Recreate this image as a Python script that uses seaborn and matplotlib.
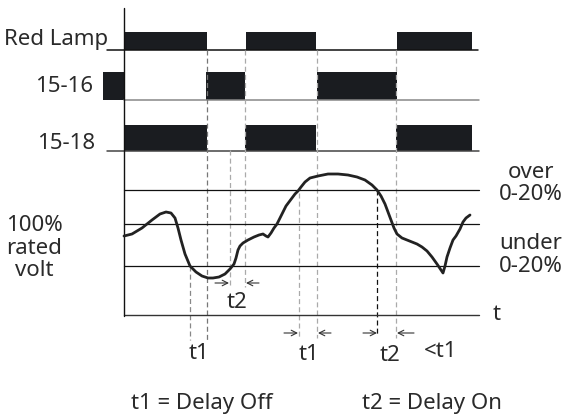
import numpy as np
import pandas as pd
import seaborn as sns
import matplotlib.pyplot as plt

sns.set_style("white")
plt.rcParams['font.family'] = ['Noto Sans', 'DejaVu Sans']
plt.rcParams['font.weight'] = 'light'

# time positions (px) of the relay switching events
red_lamp_on = [(124, 207), (246, 316), (397, 472)]
r1516_on = [(103, 124), (206, 245), (317, 397)]
r1518_on = [(124, 207), (245, 316), (396, 472)]

# voltage levels (px, screen y)
v_over = 190
v_rated = 224
v_under = 266
t_axis = 315

# voltage curve
curve_t = [124, 132, 142, 152, 160, 166, 171, 175, 178, 181, 185, 190, 196, 202, 208, 213, 219, 225,
           230, 234, 236, 238, 240, 243, 248, 254, 259, 263, 266, 268, 271, 274, 277, 280, 283, 286,
           289, 292, 295, 298, 301, 305, 310, 318, 328, 338, 348, 357, 365, 372, 377, 381, 385, 388,
           391, 394, 397, 402, 407, 412, 417, 422, 427, 432, 437, 441, 443, 445, 447, 450, 453, 456,
           460, 463, 466, 470]
curve_v = [236, 234, 228, 220, 214, 212, 213, 218, 228, 240, 254, 266, 272, 276, 278, 278, 277, 274,
           269, 264, 258, 250, 246, 243, 240, 237, 235, 234, 236, 237, 233, 228, 224, 218, 212, 206,
           202, 198, 194, 191, 187, 182, 178, 176, 174, 174, 175, 177, 180, 185, 190, 196, 204, 212,
           220, 228, 234, 238, 240, 242, 244, 247, 251, 257, 264, 270, 273, 266, 257, 248, 240, 236,
           229, 222, 218, 215]
curve = pd.DataFrame({"t": curve_t, "v": curve_v})

# dashed guides: x, y top, y bottom, colour
guides = [(190, 266, 340, "#888888"), (207, 50, 340, "#777777"), (230, 150, 287, "#aaaaaa"),
          (245, 50, 287, "#aaaaaa"), (299, 193, 338, "#aaaaaa"), (317, 50, 338, "#aaaaaa"),
          (377, 190, 336, "#111111"), (396, 50, 338, "#aaaaaa")]

fig = plt.figure(figsize=(5.66, 4.19), dpi=100)
ax = fig.add_axes([0, 0, 1, 1])
ax.set_xlim(0, 566)
ax.set_ylim(419, 0)
ax.axis("off")

ink = "#1a1c20"
txt = "#2a2a2a"

# relay rows
rows = [(red_lamp_on, 50, 32, 107, 478, "#111111"),
        (r1516_on, 100, 72, 124, 479, "#888888"),
        (r1518_on, 151, 125, 107, 479, "#444444")]
for spans, base, top, x0, x1, lc in rows:
    for a, b in spans:
        ax.fill_between([a, b], [base, base], [top, top], color=ink, lw=0)
    ax.plot([x0, x1], [base, base], color=lc, lw=1.1)

for gx, y0, y1, c in guides:
    ax.plot([gx, gx], [y0, y1], color=c, lw=0.9, ls=(0, (4, 2.5)))

# voltage levels and axes
for lv in [v_over, v_rated, v_under]:
    ax.plot([124, 479], [lv, lv], color="#111111", lw=0.9)
ax.plot([124, 479], [t_axis, t_axis], color="#333333", lw=1.0)
ax.plot([124, 124], [8, 316], color="#111111", lw=1.0)

sns.lineplot(data=curve, x="t", y="v", ax=ax, color="#222222", lw=2.0, sort=False)
ax.set_xlabel("")
ax.set_ylabel("")

# arrows
arrows = [(215, 229, 283), (259, 246, 283), (284, 298, 333), (331, 318, 333),
          (363, 377, 333), (414, 397, 333)]
for a, b, y in arrows:
    ax.annotate("", xy=(b, y), xytext=(a, y),
                arrowprops=dict(arrowstyle="->,head_length=0.5,head_width=0.25",
                                color="#333333", lw=0.8, mutation_scale=8,
                                shrinkA=0, shrinkB=0))

fs = 16
ax.text(108, 40, "Red Lamp", fontsize=fs, color=txt, ha="right", va="center")
ax.text(93, 87, "15-16", fontsize=fs, color=txt, ha="right", va="center")
ax.text(95, 143, "15-18", fontsize=fs, color=txt, ha="right", va="center")
ax.text(34, 225, "100%", fontsize=fs, color=txt, ha="center", va="center")
ax.text(34, 248, "rated", fontsize=fs, color=txt, ha="center", va="center")
ax.text(34, 270, "volt", fontsize=fs, color=txt, ha="center", va="center")
ax.text(531, 172, "over", fontsize=fs, color=txt, ha="center", va="center")
ax.text(531, 194, "0-20%", fontsize=fs, color=txt, ha="center", va="center")
ax.text(531, 243, "under", fontsize=fs, color=txt, ha="center", va="center")
ax.text(531, 266, "0-20%", fontsize=fs, color=txt, ha="center", va="center")
ax.text(497, 314, "t", fontsize=fs, color=txt, ha="center", va="center")
ax.text(237, 302, "t2", fontsize=fs, color=txt, ha="center", va="center")
ax.text(199, 353, "t1", fontsize=fs, color=txt, ha="center", va="center")
ax.text(309, 354, "t1", fontsize=fs, color=txt, ha="center", va="center")
ax.text(390, 355, "t2", fontsize=fs, color=txt, ha="center", va="center")
ax.text(441, 351, "<t1", fontsize=fs, color=txt, ha="center", va="center")
ax.text(202, 403, "t1 = Delay Off", fontsize=fs, color=txt, ha="center", va="center")
ax.text(432, 403, "t2 = Delay On", fontsize=fs, color=txt, ha="center", va="center")

fig.savefig("out.png", dpi=100)
